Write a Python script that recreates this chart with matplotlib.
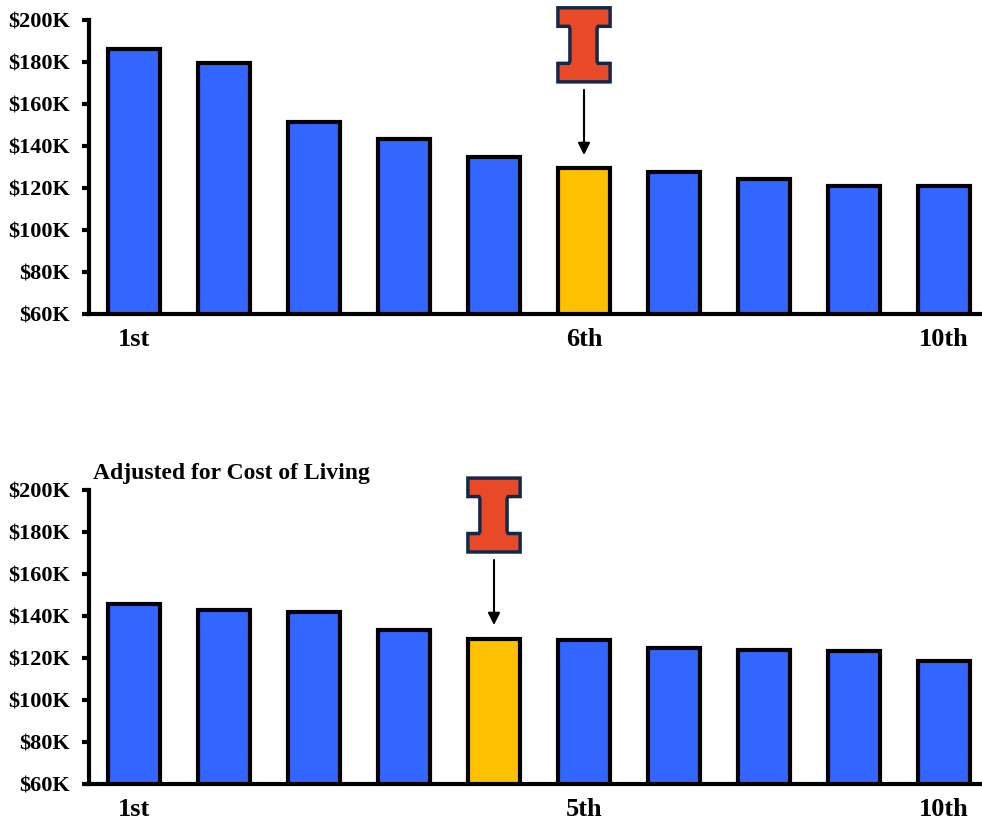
import numpy as np
import matplotlib.pyplot as plt
from matplotlib.patches import Polygon

# Data
ranks = np.arange(10)
tick_pos = [0, 5, 9]
tick_top = ["1st", "6th", "10th"]
tick_bottom = ["1st", "5th", "10th"]
salary = [186, 179.5, 151.5, 143.3, 134.8, 129.5, 127.6, 124.3, 121, 121]
salary_adj = [145.7, 142.9, 142, 133.3, 129, 128.6, 124.8, 123.8, 123.3, 118.6]
illinois_top = 5
illinois_bottom = 4
yticks = [60, 80, 100, 120, 140, 160, 180, 200]

blue = "#3366FF"
gold = "#FFC000"
orange = "#E84A27"
navy = "#13294B"

plt.rcParams['font.family'] = ['Liberation Serif', 'DejaVu Serif']
plt.rcParams['font.weight'] = 'bold'

fig = plt.figure(figsize=(9.82, 8.25), dpi=100)
ax1 = fig.add_axes([0.0906, 0.619, 0.9074, 0.357])
ax2 = fig.add_axes([0.0906, 0.0497, 0.9074, 0.3563])


def draw_logo(ax, xc):
    # block "I" shape, relative coords
    w, h = 0.58, 35.2
    x0, y0 = xc - w / 2, 170.5
    rel = [(0, 0), (1, 0), (1, 0.25), (0.77, 0.25), (0.75, 0.28), (0.75, 0.72),
           (0.77, 0.75), (1, 0.75), (1, 1), (0, 1), (0, 0.75), (0.21, 0.75),
           (0.23, 0.72), (0.23, 0.28), (0.21, 0.25), (0, 0.25)]
    pts = [(x0 + a * w, y0 + b * h) for a, b in rel]
    ax.add_patch(Polygon(pts, closed=True, facecolor=orange, edgecolor=navy,
                         lw=2.5, clip_on=False, zorder=5))
    ax.annotate("", xy=(xc, 135.7), xytext=(xc, 166.7),
                arrowprops=dict(arrowstyle="-|>", color="black", lw=1.5,
                                mutation_scale=18, shrinkA=0, shrinkB=0),
                annotation_clip=False)


for ax, vals, hi, labels in [(ax1, salary, illinois_top, tick_top),
                             (ax2, salary_adj, illinois_bottom, tick_bottom)]:
    colors = [gold if i == hi else blue for i in ranks]
    ax.bar(ranks, np.array(vals) - 60, bottom=60, width=0.58, color=colors,
           edgecolor="black", linewidth=3, zorder=3)
    ax.set_xlim(-0.5, 9.4)
    ax.set_ylim(60, 200)
    ax.set_yticks(yticks)
    ax.set_yticklabels(["$%dK" % v for v in yticks], fontsize=16, fontweight='bold')
    ax.set_xticks(tick_pos)
    ax.set_xticklabels(labels, fontsize=19, fontweight='bold')
    ax.tick_params(axis='x', length=0, pad=10)
    ax.tick_params(axis='y', length=5, width=3, pad=9)
    for s in ['top', 'right']:
        ax.spines[s].set_visible(False)
    for s in ['left', 'bottom']:
        ax.spines[s].set_linewidth(3)
    draw_logo(ax, hi)

fig.text(0.095, 0.426, "Adjusted for Cost of Living", fontsize=17,
         fontweight='bold', ha='left', va='center')

fig.savefig("out.png", dpi=100)
